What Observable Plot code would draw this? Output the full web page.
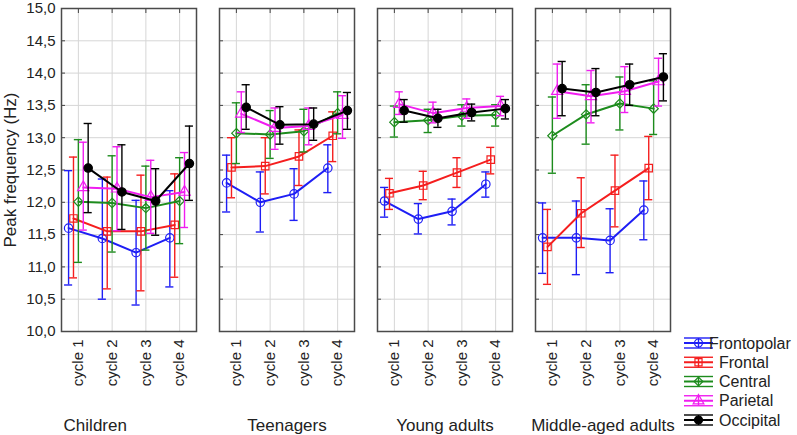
<!DOCTYPE html>
<html><head><meta charset="utf-8">
<script src="https://cdn.jsdelivr.net/npm/d3@7"></script>
<script src="https://cdn.jsdelivr.net/npm/@observablehq/plot@0.6"></script>
<style>
body{margin:0;background:#fff;font-family:"Liberation Sans",Arial,sans-serif}
#chart{width:797px;height:435px}
</style>
</head><body><div id="chart"></div>
<script>
const groups = ["Children", "Teenagers", "Young adults", "Middle-aged adults"];
const cycles = [1, 2, 3, 4];
const cycleLabels = ["cycle 1", "cycle 2", "cycle 3", "cycle 4"];
const seriesNames = ["Frontopolar", "Frontal", "Central", "Parietal", "Occipital"];
const yTicks = [10, 10.5, 11, 11.5, 12, 12.5, 13, 13.5, 14, 14.5, 15];

// Each array: Children c1-c4, Teenagers c1-c4, Young adults c1-c4, Middle-aged c1-c4
const frontopolarMean = [11.60,11.44,11.22,11.45, 12.30,12.00,12.13,12.53, 12.02,11.74,11.86,12.28, 11.45,11.45,11.41,11.88];
const frontopolarLow  = [10.72,10.50,10.41,10.69, 11.85,11.54,11.72,12.15, 11.77,11.51,11.65,12.08, 10.90,10.88,10.91,11.42];
const frontopolarHigh = [12.49,12.36,12.03,12.18, 12.73,12.47,12.52,12.89, 12.23,11.98,12.05,12.47, 11.99,12.02,11.90,12.33];

const frontalMean = [11.75,11.55,11.55,11.65, 12.54,12.56,12.71,13.03, 12.14,12.26,12.46,12.66, 11.31,11.83,12.18,12.53];
const frontalLow  = [10.83,10.66,10.63,10.84, 12.07,12.13,12.26,12.63, 11.89,12.04,12.23,12.44, 10.73,11.30,11.62,12.04];
const frontalHigh = [12.70,12.39,12.42,12.44, 13.00,13.00,13.12,13.40, 12.37,12.48,12.69,12.85, 11.89,12.38,12.73,13.02];

const centralMean = [12.01,11.99,11.91,12.02, 13.07,13.05,13.10,13.38, 13.24,13.27,13.34,13.35, 13.03,13.36,13.53,13.45];
const centralLow  = [11.07,11.23,11.26,11.36, 12.60,12.68,12.78,13.06, 13.01,13.08,13.18,13.18, 12.45,12.90,13.12,13.05];
const centralHigh = [12.97,12.72,12.56,12.69, 13.54,13.42,13.44,13.71, 13.49,13.44,13.51,13.51, 13.63,13.82,13.94,13.88];

const parietalMean = [12.23,12.21,12.08,12.16, 13.37,13.15,13.18,13.35, 13.52,13.38,13.46,13.49, 13.72,13.64,13.72,13.87];
const parietalLow  = [11.57,11.56,11.52,11.61, 13.08,12.82,12.89,12.99, 13.36,13.23,13.30,13.34, 13.30,13.23,13.39,13.49];
const parietalHigh = [12.93,12.86,12.65,12.77, 13.71,13.46,13.46,13.65, 13.71,13.55,13.60,13.64, 14.14,14.04,14.10,14.23];

const occipitalMean = [12.53,12.16,12.02,12.60, 13.47,13.20,13.21,13.42, 13.42,13.30,13.39,13.45, 13.76,13.70,13.82,13.94];
const occipitalLow  = [11.84,11.58,11.49,12.03, 13.13,12.90,12.96,13.13, 13.24,13.16,13.26,13.29, 13.34,13.34,13.50,13.57];
const occipitalHigh = [13.22,12.89,12.52,13.18, 13.82,13.48,13.46,13.70, 13.59,13.44,13.52,13.59, 14.18,14.07,14.14,14.30];

const meanArrays = [frontopolarMean, frontalMean, centralMean, parietalMean, occipitalMean];
const lowArrays  = [frontopolarLow, frontalLow, centralLow, parietalLow, occipitalLow];
const highArrays = [frontopolarHigh, frontalHigh, centralHigh, parietalHigh, occipitalHigh];

// styles
const colors = ["#1e1ef5", "#f51e1e", "#1d8c1d", "#f01ef0", "#000000"];
const symbols = ["circle", "square", "diamond2", "triangle", "circle"];
const fills = ["none", "none", "none", "none", "#000000"];
const offsets = [-0.29, -0.145, 0, 0.145, 0.29];

const rows = [];
seriesNames.forEach((s, si) => groups.forEach((g, gi) => cycles.forEach((c, ci) => {
  const k = gi * 4 + ci;
  rows.push({series: s, si, group: g, cycle: c, mean: meanArrays[si][k], lo: lowArrays[si][k], hi: highArrays[si][k]});
})));

const xPos = d => d.cycle + offsets[d.si];
const fmt = d => d.toFixed(1).replace(".", ",");
const capHalf = 0.12;

const marks = [
  Plot.gridY({ticks: yTicks, stroke: "#d6d6d6", strokeOpacity: 1}),
  Plot.gridX({ticks: cycles, stroke: "#d6d6d6", strokeOpacity: 1}),
  Plot.axisY({anchor: "left", ticks: yTicks, tickFormat: fmt, tickSize: 0, tickPadding: 6, fontSize: 15, fill: "#222", label: null}),
  Plot.axisY({anchor: "left", facetAnchor: null, ticks: yTicks, tickSize: -4, tickPadding: 0, tickFormat: () => "", stroke: "#444", label: null}),
  Plot.axisX({anchor: "top", facetAnchor: null, ticks: cycles, tickSize: -4, tickPadding: 0, tickFormat: () => "", stroke: "#444", label: null}),
  Plot.axisX({anchor: "bottom", ticks: cycles, tickFormat: d => cycleLabels[d - 1], tickRotate: -90, tickSize: 0, tickPadding: 8, fontSize: 15, fill: "#222", label: null}),
  Plot.frame({stroke: "#4a4a4a", strokeWidth: 1.5}),
  Plot.text(groups, {fx: d => d, x: d => d === groups[0] ? 1.5 : 2.5, frameAnchor: "bottom", dy: 94, text: d => d, fontSize: 17, fill: "#222", lineAnchor: "middle", textAnchor: "middle"}),
  Plot.text(["Peak frequency (Hz)"], {fx: () => groups[0], frameAnchor: "left", rotate: -90, dx: -51, text: d => d, fontSize: 17, fill: "#222", textAnchor: "middle", lineAnchor: "middle"})
];

seriesNames.forEach((s, si) => {
  const data = rows.filter(d => d.si === si);
  const stroke = colors[si];
  marks.push(
    Plot.ruleX(data, {fx: "group", x: xPos, y1: "lo", y2: "hi", stroke, strokeWidth: 1.4}),
    Plot.ruleY(data, {fx: "group", y: "lo", x1: d => xPos(d) - capHalf, x2: d => xPos(d) + capHalf, stroke, strokeWidth: 1.4}),
    Plot.ruleY(data, {fx: "group", y: "hi", x1: d => xPos(d) - capHalf, x2: d => xPos(d) + capHalf, stroke, strokeWidth: 1.4}),
    Plot.line(data, {fx: "group", x: xPos, y: "mean", stroke, strokeWidth: 2}),
    Plot.dot(data, {fx: "group", x: xPos, y: "mean", symbol: symbols[si], r: 4.2, stroke, fill: fills[si], strokeWidth: 1.2})
  );
});

const plot = Plot.plot({
  width: 797,
  height: 435,
  marginLeft: 60,
  marginRight: 127,
  marginTop: 8,
  marginBottom: 104,
  style: {fontFamily: "'Liberation Sans', Arial, sans-serif", fontSize: "15px", background: "#fff", color: "#222"},
  fx: {domain: groups, paddingInner: 0.1474, paddingOuter: 0, axis: null, label: null},
  x: {domain: [0.5, 4.5], axis: null},
  y: {domain: [10, 15], axis: null},
  marks
});
document.getElementById("chart").appendChild(plot);

// legend
const svg = d3.select(plot);
const lg = svg.append("g").attr("class", "legend");
const symbolTypes = {circle: d3.symbolCircle, square: d3.symbolSquare, diamond2: d3.symbolDiamond2, triangle: d3.symbolTriangle};
seriesNames.forEach((s, i) => {
  const y = 343 + i * 19.25;
  const x0 = 684, x1 = 713, xc = (x0 + x1) / 2;
  const g = lg.append("g").attr("stroke", colors[i]).attr("stroke-width", 1.4);
  g.append("line").attr("x1", x0).attr("x2", x1).attr("y1", y - 5).attr("y2", y - 5);
  g.append("line").attr("x1", x0).attr("x2", x1).attr("y1", y + 5).attr("y2", y + 5);
  g.append("line").attr("x1", x0).attr("x2", x1).attr("y1", y).attr("y2", y).attr("stroke-width", 2);
  g.append("line").attr("x1", xc).attr("x2", xc).attr("y1", y - 5).attr("y2", y + 5);
  g.append("path").attr("transform", `translate(${xc},${y})`)
    .attr("d", d3.symbol(symbolTypes[symbols[i]], Math.PI * 16)())
    .attr("fill", fills[i]).attr("stroke-width", 1.2);
  lg.append("text").attr("x", i === 0 ? 709 : 719).attr("y", y).attr("dy", "0.35em")
    .attr("text-anchor", "start")
    .attr("font-size", 16).attr("fill", "#222").text(s);
});
</script>
</body></html>
